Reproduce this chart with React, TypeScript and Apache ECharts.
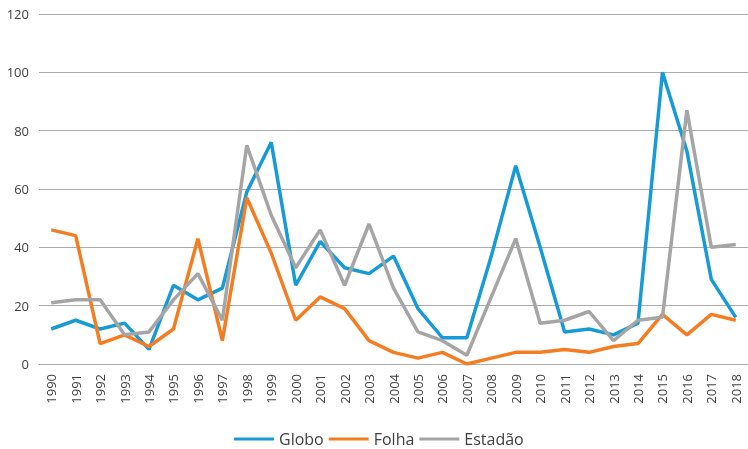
import React, { useEffect, useRef } from "react";
import * as echarts from "echarts";

const years = [
  "1990", "1991", "1992", "1993", "1994", "1995", "1996", "1997", "1998", "1999",
  "2000", "2001", "2002", "2003", "2004", "2005", "2006", "2007", "2008", "2009",
  "2010", "2011", "2012", "2013", "2014", "2015", "2016", "2017", "2018",
];

const globo = [12, 15, 12, 14, 5, 27, 22, 26, 59, 76, 27, 42, 33, 31, 37, 19, 9, 9, 37, 68, 40, 11, 12, 10, 14, 100, 73, 29, 16];
const folha = [46, 44, 7, 10, 6, 12, 43, 8, 57, 38, 15, 23, 19, 8, 4, 2, 4, 0, 2, 4, 4, 5, 4, 6, 7, 17, 10, 17, 15];
const estadao = [21, 22, 22, 10, 11, 22, 31, 15, 75, 51, 33, 46, 27, 48, 26, 11, 8, 3, 23, 43, 14, 15, 18, 8, 15, 16, 87, 40, 41];

const seriesNames = ["Globo", "Folha", "Estadão"];
const seriesColors = ["#179BD7", "#F47D22", "#A5A5A5"];

const FONT = "'Open Sans', sans-serif";
const TEXT = "#404040";
const GRID = "#ABABAB";

export default function App() {
  const ref = useRef<HTMLDivElement>(null);

  useEffect(() => {
    if (!ref.current) return;
    const chart = echarts.init(ref.current, undefined, { renderer: "svg" });
    const data = [globo, folha, estadao];
    chart.setOption({
      animation: false,
      textStyle: { fontFamily: FONT },
      grid: { left: 39, top: 14, width: 712, height: 350, containLabel: false },
      legend: {
        data: seriesNames,
        left: 234,
        top: 430,
        padding: 0,
        icon: "rect",
        itemWidth: 40,
        itemHeight: 3,
        itemGap: 5,
        textStyle: { fontFamily: FONT, fontSize: 16, lineHeight: 18, color: TEXT },
      },
      xAxis: {
        type: "category",
        data: years,
        boundaryGap: true,
        axisLine: { show: true, lineStyle: { color: GRID, width: 1 } },
        axisTick: { show: false },
        axisLabel: {
          rotate: 90,
          interval: 0,
          margin: 10,
          fontFamily: FONT,
          fontSize: 13,
          color: TEXT,
        },
      },
      yAxis: {
        type: "value",
        min: 0,
        max: 120,
        interval: 20,
        axisLine: { show: false },
        axisTick: { show: false },
        splitLine: { lineStyle: { color: GRID, width: 1 } },
        axisLabel: { margin: 10, fontFamily: FONT, fontSize: 13, color: TEXT },
      },
      series: seriesNames.map((name, i) => ({
        name,
        type: "line",
        data: data[i],
        symbol: "none",
        color: seriesColors[i],
        lineStyle: { width: 3.5, color: seriesColors[i] },
      })),
    });
    return () => chart.dispose();
  }, []);

  return (
    <div
      ref={ref}
      style={{ position: "fixed", left: 0, top: 0, width: 748, height: 449 }}
    />
  );
}
